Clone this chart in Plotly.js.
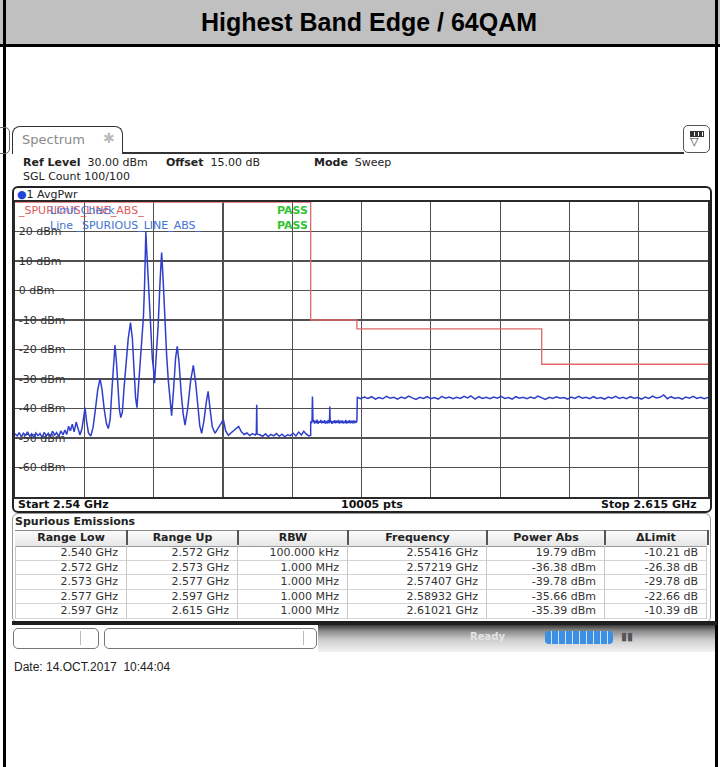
<!DOCTYPE html>
<html>
<head>
<meta charset="utf-8">
<script src="https://cdn.plot.ly/plotly-3.0.1.min.js"></script>
<style>
  html, body { margin:0; padding:0; }
  body { width:720px; height:767px; position:relative; background:#fff; overflow:hidden; font-family:"DejaVu Sans", sans-serif; color:#222; }
  .abs { position:absolute; white-space:nowrap; }
  #plot { position:absolute; left:0; top:0; width:720px; height:767px; z-index:5; }
  .hd { position:absolute; top:531px; height:14px; line-height:14px; font-size:11px; font-weight:bold; text-align:center; color:#222; }
  .cell { position:absolute; height:14px; line-height:14px; font-size:11px; text-align:right; color:#333; box-sizing:border-box; padding-right:8px; border-right:1px solid #c9c9c9; border-bottom:1px solid #d4d4d4; }
</style>
</head>
<body>
<!-- title bar -->
<div class="abs" style="left:0;top:0;width:720px;height:44px;background:#c0c0c0;border-bottom:3px solid #000;"></div>
<div class="abs" style="left:0;top:0;width:738px;height:45px;line-height:45px;text-align:center;font-family:'Liberation Sans',Arial,sans-serif;font-weight:bold;font-size:25px;color:#000;">Highest Band Edge / 64QAM</div>
<div class="abs" style="left:3px;top:0;width:3px;height:767px;background:#000;"></div>
<div class="abs" style="left:715px;top:0;width:3px;height:767px;background:#000;"></div>

<!-- instrument header -->
<div class="abs" style="left:-4px;top:127px;width:12px;height:25px;border:1.5px solid #666;border-radius:5px;"></div>
<div class="abs" style="left:12px;top:126px;width:109px;height:27px;border:1.5px solid #333;border-bottom:none;border-radius:8px 8px 0 0;background:#fff;"></div>
<div class="abs" style="left:22px;top:132px;font-size:13px;color:#8a8a8a;">Spectrum</div>
<div class="abs" style="left:103px;top:130px;font-size:14px;color:#bbbbbb;">✱</div>
<div class="abs" style="left:122px;top:152px;width:562px;height:1.5px;background:#333;"></div>
<div class="abs" style="left:683px;top:125px;width:25px;height:26px;border:1.5px solid #555;border-radius:5px;background:#fff;"></div>
<div class="abs" style="left:690px;top:131px;width:12px;height:4px;border:1px solid #333;background:repeating-linear-gradient(90deg,#333 0 3px,#fff 3px 4px);"></div>
<div class="abs" style="left:690px;top:135px;font-size:11px;color:#333;">▽</div>

<div class="abs" style="left:23px;top:156px;font-size:11px;color:#222;"><b>Ref Level</b>&nbsp; 30.00 dBm</div>
<div class="abs" style="left:166px;top:156px;font-size:11px;color:#222;"><b>Offset</b>&nbsp; 15.00 dB</div>
<div class="abs" style="left:314px;top:156px;font-size:11px;color:#222;"><b>Mode</b>&nbsp; Sweep</div>
<div class="abs" style="left:23px;top:170px;font-size:11px;color:#222;">SGL Count 100/100</div>

<!-- diagram frame -->
<div class="abs" style="left:12px;top:186px;width:696px;height:323px;border:2px solid #222;border-radius:6px;"></div>

<!-- table panel -->
<div class="abs" style="left:12px;top:513px;width:697px;height:108px;border:1px solid #9a9a9a;border-radius:6px;"></div>
<div class="abs" style="left:12px;top:621px;width:705px;height:4px;background:#1e1e1e;"></div>
<div class="abs" style="left:15px;top:515px;font-size:11px;font-weight:bold;color:#222;">Spurious Emissions</div>
<div id="tbl"></div>

<!-- status bar -->
<div class="abs" style="left:318px;top:625px;width:397px;height:27px;background:linear-gradient(to bottom,#3a3a3a 0%,#8a8a8a 22%,#cdcdcd 55%,#f2f2f2 100%);"></div>
<div class="abs" style="left:13px;top:628px;width:84px;height:19px;border:1px solid #777;border-radius:5px;background:#fff;"></div>
<div class="abs" style="left:80px;top:631px;width:1px;height:14px;background:#bbb;"></div>
<div class="abs" style="left:104px;top:628px;width:211px;height:19px;border:1px solid #777;border-radius:5px;background:#fff;"></div>
<div class="abs" style="left:303px;top:631px;width:1px;height:14px;background:#bbb;"></div>
<div class="abs" style="left:470px;top:631px;font-size:10px;font-weight:bold;color:#e4e4e4;">Ready</div>
<div class="abs" style="left:545px;top:631px;width:68px;height:13px;border-radius:4px;background:repeating-linear-gradient(90deg,#3d8fe3 0 6px,#cfe4fa 6px 7px);"></div>
<div class="abs" style="left:621px;top:630px;font-size:11px;font-weight:bold;color:#555;">▮▮</div>

<div class="abs" style="left:14px;top:660px;font-family:'Liberation Sans',Arial,sans-serif;font-size:12px;color:#222;">Date: 14.OCT.2017&nbsp; 10:44:04</div>

<div id="plot"></div>

<script>
// ---------------- data ----------------
const yTickVals = [20, 10, 0, -10, -20, -30, -40, -50, -60];
const yTickText = ['20 dBm', '10 dBm', '0 dBm', '-10 dBm', '-20 dBm', '-30 dBm', '-40 dBm', '-50 dBm', '-60 dBm'];

// limit line (dBm) per range
const limitFreqGHz = [2.540, 2.572, 2.572, 2.577, 2.577, 2.597, 2.597, 2.615];
const limitDbm     = [30, 30, -10, -10, -13, -13, -25, -25];

// spectrum trace, range 2.540 - 2.572 GHz
const bandAFreqGHz = [2.54000,2.54025,2.54045,2.54070,2.54090,2.54115,2.54135,2.54160,2.54180,2.54205,2.54225,2.54250,2.54270,2.54295,2.54315,2.54340,2.54360,2.54385,2.54405,2.54430,2.54450,2.54475,2.54495,2.54520,2.54540,2.54560,2.54580,2.54600,2.54620,2.54640,2.54662,2.54685,2.54703,2.54725,2.54742,2.54758,2.54774,2.54795,2.54820,2.54845,2.54870,2.54895,2.54920,2.54942,2.54965,2.54990,2.55010,2.55030,2.55050,2.55066,2.55082,2.55098,2.55114,2.55130,2.55145,2.55162,2.55180,2.55200,2.55225,2.55250,2.55270,2.55290,2.55305,2.55320,2.55335,2.55355,2.55372,2.55390,2.55402,2.55410,2.55416,2.55425,2.55440,2.55458,2.55472,2.55486,2.55498,2.55510,2.55525,2.55550,2.55570,2.55587,2.55604,2.55623,2.55642,2.55660,2.55678,2.55695,2.55718,2.55738,2.55756,2.55775,2.55798,2.55820,2.55840,2.55868,2.55900,2.55930,2.55955,2.55980,2.56000,2.56020,2.56045,2.56070,2.56090,2.56110,2.56135,2.56164,2.56190,2.56220,2.56255,2.56280,2.56310,2.56340,2.56370,2.56400,2.56420,2.56450,2.56480,2.56510,2.56540,2.56570,2.56600,2.56612,2.56616,2.56620,2.56650,2.56680,2.56710,2.56740,2.56770,2.56800,2.56830,2.56860,2.56890,2.56920,2.56950,2.56980,2.57010,2.57040,2.57070,2.57100,2.57125,2.57150,2.57180,2.57200];
const bandADbm     = [-48.6,-49.3,-48.2,-49.7,-48.4,-49.1,-47.9,-49.4,-48.6,-49.9,-48.3,-49.2,-48.5,-49.8,-48.1,-49.3,-48.4,-49.6,-47.7,-49.0,-48.2,-49.5,-47.6,-48.9,-47.3,-48.8,-46.0,-47.6,-45.3,-47.9,-44.6,-47.2,-49.0,-46.8,-42.8,-39.7,-44.2,-48.3,-49.3,-46.4,-40.3,-33.8,-29.9,-33.6,-40.1,-45.2,-46.8,-43.6,-33.2,-25.1,-18.5,-24.3,-33.8,-40.4,-43.1,-41.2,-33.1,-24.8,-16.4,-10.9,-16.2,-27.8,-36.3,-39.7,-33.2,-22.1,-15.8,-8.9,1.5,11.8,19.8,14.0,4.5,-2.0,-14.0,-22.9,-26.4,-31.4,-23.8,-11.5,3.2,12.9,3.1,-11.6,-22.5,-30.8,-37.0,-42.4,-32.8,-22.9,-18.9,-24.2,-34.6,-41.8,-45.6,-40.2,-30.8,-25.4,-31.2,-40.8,-45.9,-48.4,-44.1,-37.9,-34.2,-39.8,-46.2,-48.4,-47.1,-45.9,-43.8,-47.6,-49.1,-48.2,-47.4,-46.9,-46.1,-47.9,-48.8,-48.3,-49.2,-48.5,-49.0,-48.3,-38.7,-48.7,-48.9,-49.4,-48.6,-49.5,-48.8,-49.3,-48.5,-49.4,-48.7,-49.6,-48.9,-49.2,-48.4,-49.3,-48.0,-49.0,-47.7,-48.6,-49.3,-49.1];

// range 2.572 - 2.577 GHz
const bandBFreqGHz = [2.57200,2.57208,2.57215,2.57219,2.57225,2.57233,2.57242,2.57250,2.57260,2.57270,2.57280,2.57290,2.57300,2.57310,2.57320,2.57330,2.57340,2.57350,2.57360,2.57370,2.57380,2.57390,2.57400,2.57404,2.57407,2.57411,2.57420,2.57430,2.57440,2.57450,2.57460,2.57470,2.57480,2.57490,2.57500,2.57510,2.57520,2.57530,2.57540,2.57550,2.57560,2.57570,2.57580,2.57590,2.57600,2.57610,2.57620,2.57630,2.57640,2.57650,2.57660,2.57670,2.57680,2.57690,2.57700];
const bandBDbm     = [-44.3,-45.0,-44.1,-35.9,-44.6,-43.9,-45.1,-44.2,-44.9,-43.8,-45.2,-44.4,-44.8,-43.9,-45.0,-44.3,-44.9,-44.0,-45.1,-44.5,-44.8,-43.9,-45.0,-44.4,-39.3,-44.7,-44.1,-45.2,-44.3,-44.9,-44.0,-45.0,-44.4,-44.8,-43.9,-45.1,-44.2,-44.9,-44.1,-45.0,-44.5,-44.8,-43.9,-45.1,-44.3,-44.9,-44.0,-45.0,-44.4,-44.8,-44.1,-45.0,-44.3,-44.7,-44.4];

// range 2.577 - 2.615 GHz
const bandCFreqGHz = [2.57705,2.57740,2.57780,2.57820,2.57860,2.57900,2.57940,2.57980,2.58020,2.58060,2.58100,2.58140,2.58180,2.58220,2.58260,2.58300,2.58340,2.58380,2.58420,2.58460,2.58500,2.58540,2.58580,2.58620,2.58660,2.58700,2.58740,2.58780,2.58820,2.58860,2.58900,2.58932,2.58980,2.59020,2.59060,2.59100,2.59140,2.59180,2.59220,2.59260,2.59300,2.59340,2.59380,2.59420,2.59460,2.59500,2.59540,2.59580,2.59620,2.59660,2.59700,2.59740,2.59780,2.59820,2.59860,2.59900,2.59940,2.59980,2.60020,2.60060,2.60100,2.60140,2.60180,2.60220,2.60260,2.60300,2.60340,2.60380,2.60420,2.60460,2.60500,2.60540,2.60580,2.60620,2.60660,2.60700,2.60740,2.60780,2.60820,2.60860,2.60900,2.60940,2.60980,2.61021,2.61060,2.61100,2.61140,2.61180,2.61220,2.61260,2.61300,2.61340,2.61380,2.61420,2.61460,2.61500];
const bandCDbm     = [-36.2,-36.7,-36.1,-36.6,-36.0,-36.8,-36.3,-36.7,-35.9,-36.5,-36.2,-36.8,-36.1,-36.6,-35.8,-36.4,-36.9,-36.2,-36.6,-36.0,-36.7,-36.3,-36.8,-35.9,-36.5,-36.1,-36.7,-36.2,-36.6,-35.9,-36.4,-35.7,-36.8,-36.0,-36.6,-36.2,-36.7,-36.1,-36.5,-35.9,-36.6,-36.3,-36.8,-36.0,-36.5,-36.2,-36.7,-36.1,-36.6,-35.8,-36.4,-36.9,-36.2,-36.6,-36.0,-36.5,-36.3,-36.8,-36.1,-36.6,-35.9,-36.5,-36.2,-36.7,-36.0,-36.6,-36.3,-36.8,-36.1,-36.5,-35.9,-36.6,-36.2,-36.7,-36.0,-36.5,-36.3,-36.8,-36.1,-36.6,-35.8,-36.4,-36.2,-35.4,-36.7,-36.0,-36.6,-36.3,-36.8,-36.1,-36.5,-35.9,-36.6,-36.2,-36.7,-36.3];

// result table
const colHeaders = ['Range Low', 'Range Up', 'RBW', 'Frequency', 'Power Abs', '\u0394Limit'];
const rangeLow   = ['2.540 GHz', '2.572 GHz', '2.573 GHz', '2.577 GHz', '2.597 GHz'];
const rangeUp    = ['2.572 GHz', '2.573 GHz', '2.577 GHz', '2.597 GHz', '2.615 GHz'];
const rbw        = ['100.000 kHz', '1.000 MHz', '1.000 MHz', '1.000 MHz', '1.000 MHz'];
const peakFreq   = ['2.55416 GHz', '2.57219 GHz', '2.57407 GHz', '2.58932 GHz', '2.61021 GHz'];
const powerAbs   = ['19.79 dBm', '-36.38 dBm', '-39.78 dBm', '-35.66 dBm', '-35.39 dBm'];
const deltaLimit = ['-10.21 dB', '-26.38 dB', '-29.78 dB', '-22.66 dB', '-10.39 dB'];

// ---------------- table (HTML) ----------------
(function buildTable(){
  const bounds = [15, 127, 238, 348, 487, 605, 707];
  const cols = [rangeLow, rangeUp, rbw, peakFreq, powerAbs, deltaLimit];
  let html = '';
  html += '<div class="abs" style="left:15px;top:530px;width:692px;height:15px;background:linear-gradient(#fbfbfb,#e6e6e6);border-top:1px solid #8a8a8a;border-bottom:1px solid #9a9a9a;"></div>';
  colHeaders.forEach((h, i) => {
    html += '<div class="hd" style="left:' + bounds[i] + 'px;width:' + (bounds[i+1]-bounds[i]) + 'px;">' + h + '</div>';
    if (i > 0) html += '<div class="abs" style="left:' + (bounds[i]-1) + 'px;top:530px;width:1.5px;height:15px;background:#555;"></div>';
  });
  html += '<div class="abs" style="left:' + (bounds[6]) + 'px;top:530px;width:1.5px;height:15px;background:#555;"></div>';
  const rowH = 14.6;
  for (let r = 0; r < rangeLow.length; r++) {
    const top = 546 + r * rowH;
    cols.forEach((c, i) => {
      const left = bounds[i];
      const w = bounds[i+1] - bounds[i];
      html += '<div class="cell" style="left:' + left + 'px;top:' + top + 'px;width:' + w + 'px;height:' + rowH + 'px;line-height:' + rowH + 'px;' + (i === 0 ? 'border-left:1px solid #c9c9c9;' : '') + '">' + c[r] + '</div>';
    });
  }
  document.getElementById('tbl').innerHTML = html;
})();

// ---------------- plot ----------------
const PL = 15, PR = 708, PT = 202, PB = 497;
function px2paper(px, py) { return { x: (px - PL) / (PR - PL), y: (PB - py) / (PB - PT) }; }
function ann(text, px, py, extra) {
  const p = px2paper(px, py);
  return Object.assign({
    xref: 'paper', yref: 'paper', x: p.x, y: p.y, text: text, showarrow: false,
    xanchor: 'left', yanchor: 'middle',
    font: { family: 'DejaVu Sans', size: 11, color: '#222' }
  }, extra || {});
}

const spectrumX = bandAFreqGHz.concat(bandBFreqGHz, bandCFreqGHz);
const spectrumY = bandADbm.concat(bandBDbm, bandCDbm);

const traces = [
  { x: limitFreqGHz, y: limitDbm, type: 'scatter', mode: 'lines',
    line: { color: '#e06868', width: 1.3 }, hoverinfo: 'skip', cliponaxis: false },
  { x: spectrumX, y: spectrumY, type: 'scatter', mode: 'lines',
    line: { color: '#2f3fcc', width: 1.5 }, hoverinfo: 'skip' }
];

const labelBoxes = yTickVals.map((v, i) => ({
  type: 'rect', xref: 'paper', yref: 'y',
  x0: 0, x1: (9 + 6.7 * yTickText[i].length) / (PR - PL),
  y0: v - 1.5, y1: v + 1.5,
  fillcolor: '#ffffff', line: { width: 0 }, layer: 'between'
}));

const annotations = [
  ann('<span style="color:#1f45d8">●</span>1 AvgPwr', 15, 194),
  ann('_SPURIOUS_LINE_ABS_', 16, 210, { font: { family: 'DejaVu Sans', size: 11, color: '#e05a5a' } }),
  ann('Limit Check', 48, 210, { font: { family: 'DejaVu Sans', size: 11, color: '#4a78d6' } }),
  ann('<b>PASS</b>', 275, 210, { font: { family: 'DejaVu Sans', size: 11, color: '#33c233' } }),
  ann('Line _SPURIOUS_LINE_ABS_', 48, 225, { font: { family: 'DejaVu Sans', size: 11, color: '#3f74d2' } }),
  ann('<b>PASS</b>', 275, 225, { font: { family: 'DejaVu Sans', size: 11, color: '#33c233' } }),
  ann('<b>Start 2.54 GHz</b>', 16, 504, { font: { family: 'DejaVu Sans', size: 11, color: '#111' } }),
  ann('<b>10005 pts</b>', 372, 504, { xanchor: 'center', font: { family: 'DejaVu Sans', size: 11, color: '#111' } }),
  ann('<b>Stop 2.615 GHz</b>', 699, 504, { xanchor: 'right', font: { family: 'DejaVu Sans', size: 11, color: '#111' } })
];

const layout = {
  width: 720, height: 767,
  margin: { l: PL, r: 720 - PR, t: PT, b: 767 - PB, pad: 0 },
  paper_bgcolor: 'rgba(0,0,0,0)', plot_bgcolor: '#ffffff',
  showlegend: false,
  xaxis: {
    range: [2.54, 2.615], tick0: 2.54, dtick: 0.0075,
    showticklabels: false, ticks: '', showgrid: true,
    gridcolor: '#505050', gridwidth: 1.2,
    showline: true, mirror: true, linecolor: '#2a2a2a', linewidth: 1.6,
    zeroline: false, layer: 'below traces', fixedrange: true
  },
  yaxis: {
    range: [-70, 30], tickmode: 'array', tickvals: yTickVals, ticktext: yTickText,
    ticklabelposition: 'inside', ticklabelstandoff: 3, ticks: '', showgrid: true,
    gridcolor: '#505050', gridwidth: 1.2,
    showline: true, mirror: true, linecolor: '#2a2a2a', linewidth: 1.6,
    zeroline: false, layer: 'below traces', fixedrange: true,
    tickfont: { family: 'DejaVu Sans', size: 11, color: '#333' }
  },
  shapes: labelBoxes,
  annotations: annotations
};

Plotly.newPlot('plot', traces, layout, { staticPlot: true, displayModeBar: false });
</script>
</body>
</html>
